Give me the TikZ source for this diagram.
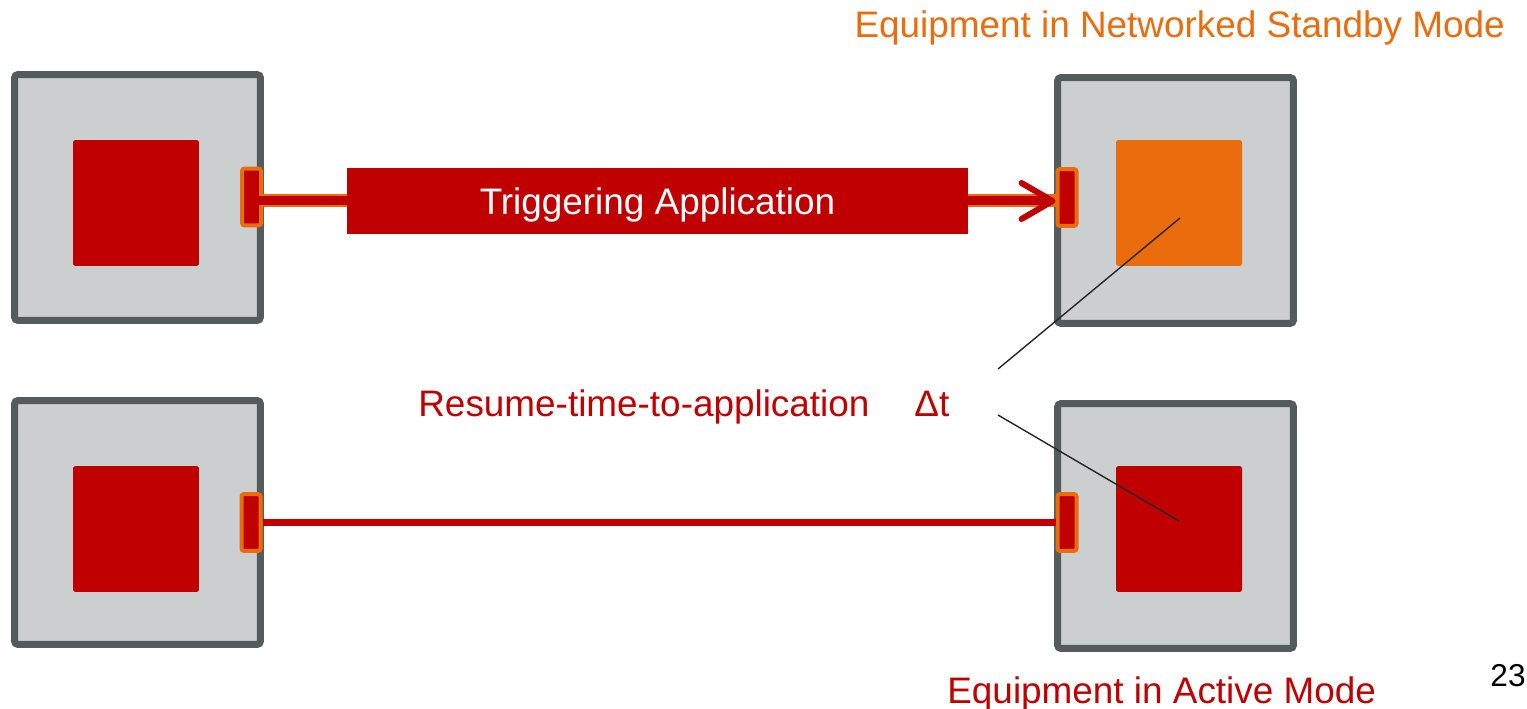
\documentclass[tikz,border=0pt]{standalone}
\usepackage{fontspec}
\setmainfont{Liberation Sans}
\usepackage{xcolor}
\usetikzlibrary{arrows.meta}
\definecolor{ered}{HTML}{C00000}
\definecolor{eorange}{HTML}{EB6C0D}
\definecolor{edark}{HTML}{535C5B}
\definecolor{elight}{HTML}{CBCFD0}

\tikzset{
  unit/.style={draw=edark, line width=0.14cm, fill=elight, rounded corners=2pt, inner sep=0},
  core/.style={fill=ered, rounded corners=1pt, minimum size=2.52cm, inner sep=0},
  port/.style={draw=eorange, fill=ered, line width=0.08cm, rounded corners=1.5pt, minimum width=0.38cm, minimum height=1.14cm, inner sep=0},
  lbl/.style={inner sep=0, font=\fontsize{21}{25}\selectfont},
}

\begin{document}
\begin{tikzpicture}[x=0.02cm, y=-0.02cm]
 \useasboundingbox (0,0) rectangle (1527,709);

 % equipment boxes
 \node[unit, minimum width=4.92cm, minimum height=4.92cm] (uTL) at (137.5,197.5) {};
 \node[unit, minimum width=4.72cm, minimum height=4.92cm] (uTR) at (1175.5,200.5) {};
 \node[unit, minimum width=4.92cm, minimum height=4.88cm] (uBL) at (137.5,522.5) {};
 \node[unit, minimum width=4.72cm, minimum height=4.90cm] (uBR) at (1175.5,526) {};

 \node[core] (cTL) at (136,203) {};
 \node[core, fill=eorange] (cTR) at (1179,203) {};
 \node[core] (cBL) at (136,529) {};
 \node[core] (cBR) at (1179,529) {};

 \node[port] (pTL) at (251.5,197) {};
 \node[port] (pTR) at (1067,197.5) {};
 \node[port] (pBL) at (251,522.5) {};
 \node[port] (pBR) at (1067,522.5) {};

 \node[lbl, fill=ered, text=white, minimum width=12.42cm, minimum height=1.32cm, text height=0.53cm, text depth=0pt] (trig) at (657.5,201) {Triggering Application};

 % links
 \draw[eorange, line width=0.26cm] (pTL.east |- trig.west) -- (trig.west);
 \draw[ered, line width=0.18cm, yshift=-0.04cm] (pTL.center |- trig.west) -- (trig.west);
 \draw[eorange, line width=0.26cm] (trig.east) -- (pTR.west |- trig.east);
 \draw[ered, line width=0.18cm, yshift=-0.04cm, -{Straight Barb[length=0.62cm, width=0.72cm, line width=0.12cm, round]}] (trig.east) -- (pTR.west |- trig.east);
 \draw[ered, line width=0.14cm, yshift=0.04cm] (pBL.east) -- (pBR.west);

 % delta t pointers
 \coordinate (dtA) at (998,369);
 \coordinate (dtB) at (998,415);
 \coordinate (eTR) at (1180,218);
 \coordinate (eBR) at (1179,521);
 \draw[black!85, line width=0.8pt] (dtA) -- (eTR);
 \draw[black!85, line width=0.8pt] (dtB) -- (eBR);

 % texts
 \node[lbl, text=eorange, anchor=base east] (tNSM) at (1505,38) {Equipment in Networked Standby Mode};
 \node[lbl, text=ered, anchor=base west] (tAM) at (947,703) {Equipment in Active Mode};
 \node[lbl, text=ered, anchor=base west] (tRTA) at (418,416) {Resume-time-to-application};
 \node[lbl, text=ered, anchor=base west] (tDt) at (914,416) {Δt};
 \node[inner sep=0, font=\fontsize{18}{20}\selectfont, anchor=base east] (pg) at (1526,686) {23};
\end{tikzpicture}
\end{document}
